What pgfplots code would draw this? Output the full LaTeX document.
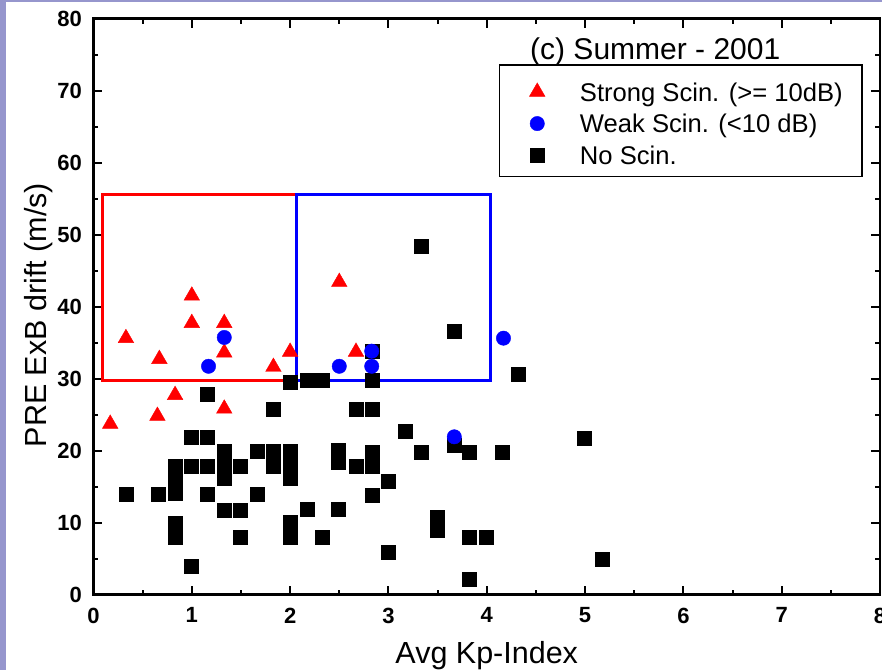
\documentclass[border=0pt]{standalone}
\usepackage{fontspec}
\setmainfont{Liberation Sans}
\usepackage{pgfplots}
\pgfplotsset{compat=1.18}
\definecolor{lav}{RGB}{150,150,205}
\pgfplotsset{myleg/.style={legend image code/.code={\path (0pt,0pt) (80pt,0pt); \draw[##1] plot coordinates {(37.5pt,9.2pt)};}}}
\begin{document}
\begin{tikzpicture}
\path[use as bounding box] (-93.5pt,-75.5pt) rectangle (788.5pt,594.5pt);
\fill[lav] (-93.5pt,-75.5pt) rectangle (-87pt,594.5pt);
\fill[lav] (-93.5pt,592.5pt) rectangle (788.5pt,594.5pt);
\begin{axis}[
  at={(0pt,0pt)}, anchor=south west,
  width=786.5pt, height=576pt, scale only axis,
  xmin=0, xmax=8, ymin=0, ymax=80,
  xtick={0,...,8}, ytick={0,10,...,80},
  minor x tick num=1, minor y tick num=1,
  tick align=inside, major tick length=9pt, minor tick length=5pt,
  axis line style={line width=2.5pt},
  every tick/.style={black, line width=2pt},
  /pgf/number format/assume math mode=true,
  ticklabel style={font=\fontsize{22}{24}\selectfont\bfseries},
  xticklabel style={anchor=north, inner sep=0pt, yshift=-13pt},
  yticklabel style={anchor=east, inner sep=0pt, xshift=-11.5pt},
  xlabel={Avg Kp-Index}, ylabel={PRE ExB drift (m/s)},
  label style={font=\fontsize{30.5}{36}\selectfont},
  xlabel style={at={(axis description cs:0.5,0)}, anchor=base, yshift=-68.5pt},
  ylabel style={at={([xshift=-46.5pt]axis description cs:0,0.485)}, anchor=base},
  legend style={draw=none, fill=none, at={(0.516,0.8917)}, anchor=north west,
    inner sep=0pt, row sep=0pt, column sep=0pt,
    cells={anchor=base west},
    nodes={inner sep=0pt, text height=20pt, text depth=11.7pt, font=\fontsize{25.6}{30}\selectfont}},
]
% boxes
\addplot[red, line width=3pt, line join=miter, forget plot] coordinates {(0.094,29.7) (2.067,29.7) (2.067,55.5) (0.094,55.5)} -- cycle;
\addplot[blue, line width=3pt, line join=miter, forget plot] coordinates {(2.067,29.7) (4.037,29.7) (4.037,55.5) (2.067,55.5)} -- cycle;
% No scintillation
\addplot[only marks, mark=square*, mark size=7pt, black, forget plot] coordinates {
(0.33,13.9) (0.66,13.9)
(0.83,17.8) (0.83,15.9) (0.83,14.1) (0.83,9.9) (0.83,8.0)
(0.99,21.8) (0.99,17.8) (0.99,4.0)
(1.16,27.8) (1.16,21.8) (1.16,17.8) (1.16,13.9)
(1.33,19.9) (1.33,18.0) (1.33,16.1) (1.33,11.7)
(1.49,17.8) (1.49,11.7) (1.49,7.9)
(1.66,19.9) (1.66,13.9)
(1.83,25.7) (1.83,19.9) (1.83,17.8)
(2.0,29.5) (2.0,19.9) (2.0,17.8) (2.0,16.1) (2.0,10.0) (2.0,8.0)
(2.17,29.7) (2.17,11.8)
(2.33,29.7) (2.33,7.9)
(2.49,20.1) (2.49,18.4) (2.49,11.8)
(2.67,25.7) (2.67,17.8)
(2.83,33.8) (2.83,29.7) (2.83,25.7) (2.83,19.8) (2.83,17.8) (2.83,13.8)
(3.0,15.8) (3.0,5.9)
(3.17,22.7)
(3.33,48.4) (3.33,19.8)
(3.5,10.8) (3.5,8.9)
(3.67,36.6) (3.67,20.7)
(3.82,19.7) (3.82,7.9) (3.82,2.1)
(3.99,7.9)
(4.16,19.7)
(4.32,30.6)
(4.99,21.7)
(5.17,4.9)
};
% Strong
\addplot[only marks, mark=triangle*, mark size=9pt, red, myleg] coordinates {
(0.17,23.7) (0.33,35.6) (0.67,32.7) (0.83,27.7) (0.65,24.8) (1.0,41.5) (1.0,37.7)
(1.33,37.7) (1.33,33.6) (1.33,25.8) (1.83,31.6) (2.0,33.7) (2.5,43.4) (2.67,33.7)
};
\addlegendentry{\makebox[282.5pt][l]{Strong Scin. (>= 10dB)}}
% Weak
\addplot[only marks, mark=*, mark size=7.2pt, blue, myleg] coordinates {
(1.17,31.7) (1.33,35.7) (2.5,31.7) (2.83,33.8) (2.83,31.7) (3.67,21.9) (4.17,35.6)
};
\addlegendentry{Weak Scin. (<10 dB)}
\addlegendimage{only marks, mark=square*, mark size=7pt, black, myleg}
\addlegendentry{No Scin.}
% legend frame and title
\draw[line width=1.3pt] (rel axis cs:0.516,0.9193) rectangle (rel axis cs:0.9771,0.7253);
\node[anchor=base west, font=\fontsize{30}{36}\selectfont, inner sep=0pt] at (rel axis cs:0.555,0.928) {(c) Summer - 2001};
\end{axis}
\end{tikzpicture}
\end{document}
